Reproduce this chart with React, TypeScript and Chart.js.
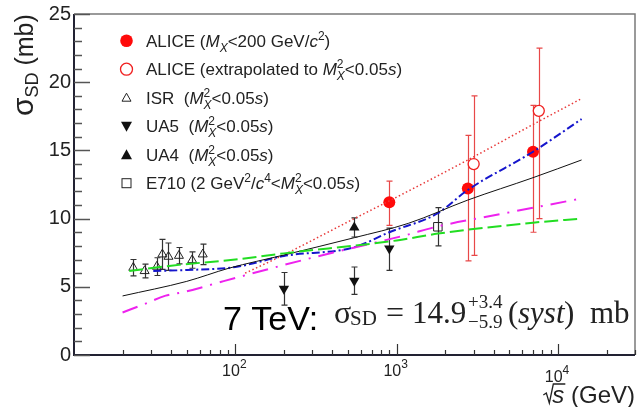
import React, { useEffect, useRef } from 'react';
import { Chart, registerables } from 'chart.js';
Chart.register(...registerables);

// ---------------- data ----------------
const aliceX = [900, 2760, 7000];
const aliceY = [11.2, 12.2, 14.9];
const aliceUp = [1.55, 3.9, 3.4];
const aliceDn = [1.7, 5.3, 5.9];

const aliceExtX = [3000, 7600];
const aliceExtY = [14.0, 17.9];
const aliceExtUp = [5.0, 4.6];
const aliceExtDn = [6.7, 7.9];

const isrX = [23.3, 27.4, 32.6, 35.3, 38.5, 44.7, 54, 62.8];
const isrY = [6.4, 6.16, 6.48, 7.38, 7.21, 7.28, 6.96, 7.38];
const isrErr = [0.6, 0.5, 0.65, 1.1, 1.0, 0.6, 0.6, 0.75];

const ua5X = [200, 546, 900];
const ua5Y = [4.85, 5.45, 7.8];
const ua5Up = [1.2, 1.0, 1.5];
const ua5Dn = [1.2, 1.0, 1.6];

const ua4X = [546];
const ua4Y = [9.35];
const ua4Err = [0.7];

const e710X = [1800];
const e710Y = [9.4];
const e710Err = [1.4];

const blackX = [20, 50, 91, 200, 546, 1180, 2760, 7000, 14000];
const blackY = [4.33, 5.4, 6.36, 7.33, 8.6, 9.65, 11.36, 13.0, 14.3];

const greenX = [22, 40, 100, 200, 1000, 1800, 7000, 14000];
const greenY = [6.15, 6.55, 7.0, 7.45, 8.4, 8.9, 9.7, 10.0];

const blueX = [31, 50, 100, 200, 546, 900, 1800, 2760, 7000, 14000];
const blueY = [6.16, 6.23, 6.45, 7.26, 7.9, 9.0, 10.4, 12.1, 14.9, 17.3];

const magentaX = [20, 27, 37, 49, 82, 200, 400, 1150, 1760, 4100, 14000];
const magentaY = [3.12, 3.71, 4.35, 4.64, 5.37, 6.6, 7.5, 8.8, 9.4, 10.26, 11.48];

const redX = [115, 200, 546, 900, 2760, 7000, 14000];
const redY = [6.0, 7.35, 10.0, 11.3, 14.3, 16.9, 18.8];

const yMajorTicks = [0, 5, 10, 15, 20, 25];
const xMajorTicks = [100, 1000, 10000];
const xMajorExp = ['2', '3', '4'];

const SANS = '"Liberation Sans", Arial, sans-serif';
const SERIF = '"Liberation Serif", "Times New Roman", serif';

const pts = (xs: number[], ys: number[]) => xs.map((x, i) => ({ x, y: ys[i] }));

type Seg = { t?: string; it?: boolean; sz?: number; dy?: number; fam?: string; stack?: Seg[] };

function drawRich(ctx: CanvasRenderingContext2D, x: number, y: number, segs: Seg[], size: number, fam: string) {
  let cx = x;
  const one = (s: Seg, px: number) => {
    ctx.font = `${s.it ? 'italic ' : ''}${s.sz ?? size}px ${s.fam ?? fam}`;
    ctx.fillText(s.t ?? '', px, y + (s.dy ?? 0));
    return ctx.measureText(s.t ?? '').width;
  };
  for (const s of segs) {
    if (s.stack) {
      let w = 0;
      for (const q of s.stack) w = Math.max(w, one(q, cx));
      cx += w;
    } else cx += one(s, cx);
  }
  return cx - x;
}
function measureRich(ctx: CanvasRenderingContext2D, segs: Seg[], size: number, fam: string) {
  let w = 0;
  const m = (s: Seg) => {
    ctx.font = `${s.it ? 'italic ' : ''}${s.sz ?? size}px ${s.fam ?? fam}`;
    return ctx.measureText(s.t ?? '').width;
  };
  for (const s of segs) {
    if (s.stack) w += Math.max(...s.stack.map(m));
    else w += m(s);
  }
  return w;
}

const MX2: Seg = { stack: [{ t: '2', sz: 12, dy: -7 }, { t: 'X', it: true, sz: 12, dy: 5 }] };

const legendRows: { segs: Seg[] }[] = [
  { segs: [{ t: 'ALICE (' }, { t: 'M', it: true }, { t: 'X', it: true, sz: 12, dy: 5 }, { t: '<200 GeV/' }, { t: 'c', it: true }, { t: '2', sz: 12, dy: -7 }, { t: ')' }] },
  { segs: [{ t: 'ALICE (extrapolated to ' }, { t: 'M', it: true }, MX2, { t: '<0.05' }, { t: 's', it: true }, { t: ')' }] },
  { segs: [{ t: 'ISR  (' }, { t: 'M', it: true }, MX2, { t: '<0.05' }, { t: 's', it: true }, { t: ')' }] },
  { segs: [{ t: 'UA5  (' }, { t: 'M', it: true }, MX2, { t: '<0.05' }, { t: 's', it: true }, { t: ')' }] },
  { segs: [{ t: 'UA4  (' }, { t: 'M', it: true }, MX2, { t: '<0.05' }, { t: 's', it: true }, { t: ')' }] },
  { segs: [{ t: 'E710 (2 GeV' }, { t: '2', sz: 12, dy: -7 }, { t: '/' }, { t: 'c', it: true }, { t: '4', sz: 12, dy: -7 }, { t: '<' }, { t: 'M', it: true }, MX2, { t: '<0.05' }, { t: 's', it: true }, { t: ')' }] },
];

const errorBarPlugin = {
  id: 'errbars',
  beforeDatasetsDraw(chart: any) {
    const { ctx, scales } = chart;
    const xs = scales.x, ys = scales.y;
    ctx.save();
    chart.data.datasets.forEach((ds: any) => {
      if (!ds.errUp) return;
      ctx.strokeStyle = ds.errColor;
      ctx.lineWidth = 1.2;
      ds.data.forEach((p: any, i: number) => {
        const px = Math.round(xs.getPixelForValue(p.x)) + 0.5;
        const t = ys.getPixelForValue(p.y + ds.errUp[i]);
        const b = ys.getPixelForValue(p.y - ds.errDn[i]);
        ctx.beginPath();
        ctx.moveTo(px, t); ctx.lineTo(px, b);
        ctx.moveTo(px - 3, t); ctx.lineTo(px + 3, t);
        ctx.moveTo(px - 3, b); ctx.lineTo(px + 3, b);
        ctx.stroke();
      });
    });
    ctx.restore();
  },
};

const decorPlugin = {
  id: 'decor',
  afterDraw(chart: any) {
    const { ctx, chartArea: a, scales } = chart;
    const xs = scales.x, ys = scales.y;
    ctx.save();
    // frame
    ctx.strokeStyle = '#7a7a7a';
    ctx.lineWidth = 1.5;
    ctx.beginPath();
    ctx.moveTo(a.left, a.top); ctx.lineTo(a.right, a.top); ctx.lineTo(a.right, a.bottom);
    ctx.stroke();
    ctx.strokeStyle = '#222233';
    ctx.lineWidth = 2;
    ctx.beginPath();
    ctx.moveTo(a.left, a.top); ctx.lineTo(a.left, a.bottom); ctx.lineTo(a.right, a.bottom);
    ctx.stroke();

    // y ticks
    ctx.strokeStyle = '#555';
    ctx.lineWidth = 1.5;
    for (let v = 0; v <= 25; v += 1) {
      const py = Math.round(ys.getPixelForValue(v)) + 0.5;
      const len = v % 5 === 0 ? 16 : 8;
      ctx.beginPath(); ctx.moveTo(a.left, py); ctx.lineTo(a.left + len, py); ctx.stroke();
    }
    ctx.fillStyle = '#222';
    ctx.font = `20px ${SANS}`;
    ctx.textAlign = 'right';
    ctx.textBaseline = 'middle';
    yMajorTicks.forEach((v) => ctx.fillText(String(v), a.left - 3, ys.getPixelForValue(v)));

    // x ticks
    ctx.strokeStyle = '#333';
    ctx.lineWidth = 1.2;
    for (let d = 10; d <= 10000; d *= 10) {
      for (let k = 1; k <= 9; k++) {
        const v = d * k;
        if (v <= 10 || v > 30000) continue;
        const px = Math.round(xs.getPixelForValue(v)) + 0.5;
        const len = k === 1 ? 11 : 5;
        ctx.beginPath(); ctx.moveTo(px, a.bottom); ctx.lineTo(px, a.bottom - len); ctx.stroke();
      }
    }
    ctx.textAlign = 'left';
    ctx.textBaseline = 'alphabetic';
    xMajorTicks.forEach((v, i) => {
      const segs: Seg[] = [{ t: '10' }, { t: xMajorExp[i], sz: 12, dy: -8 }];
      const w = measureRich(ctx, segs, 16, SANS);
      const px = xs.getPixelForValue(v);
      drawRich(ctx, px - w / 2 - 1, i === 2 ? 382 : 376, segs, 16, SANS);
    });

    // x title
    {
      const base = 403;
      ctx.font = `italic 24px ${SANS}`;
      const sw = ctx.measureText('s').width;
      ctx.font = `24px ${SANS}`;
      const rest = ' (GeV)';
      const rw = ctx.measureText(rest).width;
      const right = a.right;
      const sx = right - rw - sw;
      ctx.fillText(rest, sx + sw, base);
      ctx.font = `italic 24px ${SANS}`;
      ctx.fillText('s', sx, base);
      ctx.strokeStyle = '#222';
      ctx.lineWidth = 1.3;
      ctx.beginPath();
      ctx.moveTo(sx - 9, base - 8);
      ctx.lineTo(sx - 6, base - 10);
      ctx.lineTo(sx - 3, base);
      ctx.lineTo(sx + 1, base - 19);
      ctx.lineTo(sx + sw + 1, base - 19);
      ctx.stroke();
    }

    // y title
    ctx.save();
    ctx.translate(33, 116);
    ctx.rotate(-Math.PI / 2);
    ctx.fillStyle = '#222';
    drawRich(ctx, 0, 0, [{ t: 'σ', sz: 30 }, { t: 'SD', sz: 18, dy: 5 }, { t: ' (mb)' }], 25, SANS);
    ctx.restore();

    // legend
    const lx = 126.5, tx = 146;
    legendRows.forEach((row, i) => {
      const cy = 40.7 + i * 28.5;
      ctx.fillStyle = '#222';
      drawRich(ctx, tx, cy + 6, row.segs, 17, SANS);
      ctx.lineWidth = 1;
      if (i === 0) {
        ctx.fillStyle = '#ff0a0a';
        ctx.beginPath(); ctx.arc(lx, cy, 6.3, 0, Math.PI * 2); ctx.fill();
      } else if (i === 1) {
        ctx.strokeStyle = '#f02020'; ctx.lineWidth = 1.3;
        ctx.beginPath(); ctx.arc(lx, cy, 6, 0, Math.PI * 2); ctx.stroke();
      } else if (i === 2) {
        ctx.strokeStyle = '#222'; ctx.lineWidth = 1;
        ctx.beginPath(); ctx.moveTo(lx, cy - 4.5); ctx.lineTo(lx + 4.5, cy + 3.5); ctx.lineTo(lx - 4.5, cy + 3.5); ctx.closePath(); ctx.stroke();
      } else if (i === 3) {
        ctx.fillStyle = '#111';
        ctx.beginPath(); ctx.moveTo(lx - 5.5, cy - 4.5); ctx.lineTo(lx + 5.5, cy - 4.5); ctx.lineTo(lx, cy + 5.5); ctx.closePath(); ctx.fill();
      } else if (i === 4) {
        ctx.fillStyle = '#111';
        ctx.beginPath(); ctx.moveTo(lx, cy - 5.5); ctx.lineTo(lx + 5.5, cy + 4.5); ctx.lineTo(lx - 5.5, cy + 4.5); ctx.closePath(); ctx.fill();
      } else {
        ctx.strokeStyle = '#222'; ctx.lineWidth = 1;
        ctx.strokeRect(lx - 4.5, cy - 4.5, 9, 9);
      }
    });

    // annotation
    ctx.fillStyle = '#000';
    ctx.font = `34px ${SANS}`;
    ctx.fillText('7 TeV:', 223, 330);
    ctx.fillStyle = '#222';
    const fb = 323;
    const put = (t: string, x: number, size: number, dy = 0, it = false) => {
      ctx.font = `${it ? 'italic ' : ''}${size}px ${SERIF}`;
      ctx.fillText(t, x, fb + dy);
    };
    put('σ', 334, 32);
    put('SD', 350, 21, 2);
    put('=', 386, 32);
    put('14.9', 412, 31);
    put('+3.4', 468, 19, -15);
    put('−5.9', 468, 19, 5);
    put('(', 508, 31);
    put('syst', 518, 31, 0, true);
    put(')', 564, 31);
    put('mb', 590, 31);

    ctx.restore();
  },
};

export default function App() {
  const ref = useRef<HTMLCanvasElement>(null);
  useEffect(() => {
    document.body.style.margin = '0';
    const canvas = ref.current!;
    const lineDs = (xs: number[], ys: number[], color: string, width: number, dash: number[]) => ({
      type: 'scatter' as const,
      data: pts(xs, ys),
      showLine: true,
      borderColor: color,
      borderWidth: width,
      borderDash: dash,
      pointRadius: 0,
      cubicInterpolationMode: 'monotone' as const,
      fill: false,
    });
    const chart = new Chart(canvas, {
      type: 'scatter',
      data: {
        datasets: [
          lineDs(greenX, greenY, '#22dd22', 2, [14, 5]),
          lineDs(magentaX, magentaY, '#ee22ee', 2, [16, 8, 2, 8]),
          lineDs(blackX, blackY, '#111111', 1, []),
          lineDs(blueX, blueY, '#1515cc', 2, [8, 3, 2, 3]),
          lineDs(redX, redY, '#e83838', 1.5, [1.5, 2.5]),
          {
            data: pts(isrX, isrY), pointStyle: 'triangle', radius: 5.2, borderWidth: 1,
            borderColor: '#222', backgroundColor: 'rgba(255,255,255,0)',
            errUp: isrErr, errDn: isrErr, errColor: '#333',
          } as any,
          {
            data: pts(ua5X, ua5Y), pointStyle: 'triangle', rotation: 180, radius: 6, borderWidth: 0,
            borderColor: '#111', backgroundColor: '#111',
            errUp: ua5Up, errDn: ua5Dn, errColor: '#333',
          } as any,
          {
            data: pts(ua4X, ua4Y), pointStyle: 'triangle', radius: 6, borderWidth: 0,
            borderColor: '#111', backgroundColor: '#111',
            errUp: ua4Err, errDn: ua4Err, errColor: '#333',
          } as any,
          {
            data: pts(e710X, e710Y), pointStyle: 'rect', radius: 6, borderWidth: 1,
            borderColor: '#222', backgroundColor: 'rgba(255,255,255,0)',
            errUp: e710Err, errDn: e710Err, errColor: '#333',
          } as any,
          {
            data: pts(aliceExtX, aliceExtY), pointStyle: 'circle', radius: 5.5, borderWidth: 1.3,
            borderColor: '#f02020', backgroundColor: '#ffffff',
            errUp: aliceExtUp, errDn: aliceExtDn, errColor: '#e84848',
          } as any,
          {
            data: pts(aliceX, aliceY), pointStyle: 'circle', radius: 6, borderWidth: 0,
            borderColor: '#ff0a0a', backgroundColor: '#ff0a0a',
            errUp: aliceUp, errDn: aliceDn, errColor: '#e84848',
          } as any,
        ],
      },
      options: {
        responsive: false,
        maintainAspectRatio: false,
        animation: false,
        layout: { padding: { left: 74, top: 14, right: 2, bottom: 52 } },
        plugins: { legend: { display: false }, tooltip: { enabled: false } },
        events: [],
        scales: {
          x: { type: 'logarithmic', min: 10, max: 30000, display: false },
          y: { type: 'linear', min: 0, max: 25, display: false },
        },
      },
      plugins: [errorBarPlugin, decorPlugin],
    });
    return () => chart.destroy();
  }, []);
  return (
    <div style={{ width: 642, height: 407 }}>
      <canvas ref={ref} width={642} height={407} style={{ display: 'block' }} />
    </div>
  );
}
